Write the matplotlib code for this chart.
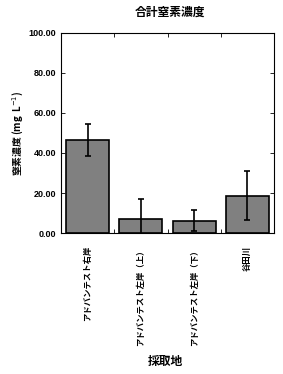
import matplotlib
matplotlib.use("Agg")
import matplotlib.pyplot as plt
import numpy as np

plt.rcParams['font.family'] = ['Noto Sans CJK JP', 'DejaVu Sans']

categories = ["アドバンテスト右岸", "アドバンテスト左岸（上）", "アドバンテスト左岸（下）", "谷田川"]
values = [46.5, 7.2, 6.2, 18.6]
errors = [8.0, 10.0, 5.3, 12.3]
yticks = [0, 20, 40, 60, 80, 100]

fig = plt.figure(figsize=(2.83, 3.74), dpi=100)
ax = fig.add_axes([61/283, 1-233/374, 213/283, 200/374])

x = np.arange(len(categories))
ax.bar(x, values, width=0.81, color='#808080', edgecolor='black', linewidth=1.2,
       yerr=errors, error_kw=dict(ecolor='black', elinewidth=1.2, capsize=2.2, capthick=1.2))

ax.set_xlim(-0.5, len(categories) - 0.5)
ax.set_ylim(0, 100)
ax.set_yticks(yticks)
ax.set_yticklabels([f"{v:.2f}" for v in yticks], fontsize=6.5, fontweight='bold',
                   family=['Liberation Sans', 'DejaVu Sans'])
ax.set_xticks(x)
ax.set_xticklabels(categories, rotation=90, fontsize=6, fontweight='bold', va='top', ha='center')
ax.tick_params(axis='x', length=0, pad=9)
ax.set_xticks(np.arange(len(categories) - 1) + 0.5, minor=True)
ax.tick_params(axis='x', which='minor', direction='in', length=3, top=True, bottom=True, width=0.6)
ax.tick_params(axis='y', direction='in', length=3, right=True, width=0.6)
for s in ax.spines.values():
    s.set_linewidth(0.8)

ax.set_ylabel("窒素濃度 (mg  L$^{-1}$)", fontsize=7, fontweight='bold', labelpad=2)
fig.text(170/283, 1-12/374, "合計窒素濃度", ha='center', va='center', fontsize=8.5, fontweight='bold')
fig.text(165/283, 1-361/374, "採取地", ha='center', va='center', fontsize=8.5, fontweight='bold')

fig.savefig("out.png", dpi=100)
